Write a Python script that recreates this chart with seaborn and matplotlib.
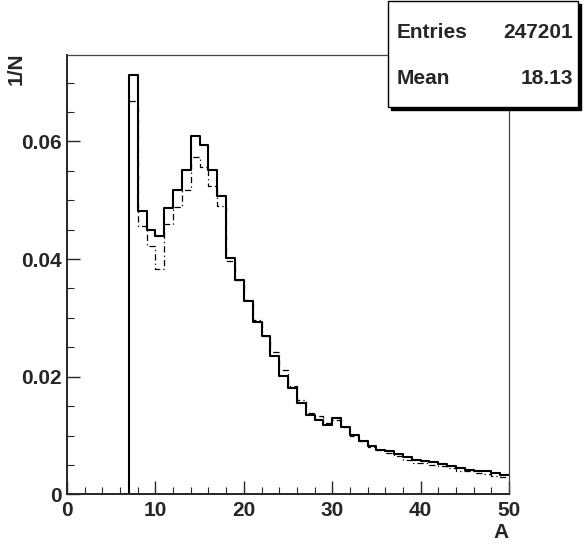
import numpy as np
import pandas as pd
import seaborn as sns
import matplotlib.pyplot as plt
from matplotlib.patches import Rectangle
from matplotlib.ticker import MultipleLocator

# bin edges 7..50, one unit wide
bin_edges = list(range(7, 51))

solid_vals = [0.0713, 0.0481, 0.0449, 0.0440, 0.0487, 0.0518, 0.0552, 0.0610, 0.0594, 0.0551,
              0.0508, 0.0401, 0.0365, 0.0328, 0.0293, 0.0269, 0.0235, 0.0202, 0.0180, 0.0155,
              0.0135, 0.0126, 0.0118, 0.0129, 0.0115, 0.0101, 0.0091, 0.0082, 0.0076, 0.0073,
              0.0069, 0.0064, 0.0059, 0.0057, 0.0055, 0.0052, 0.0049, 0.0044, 0.0042, 0.0040,
              0.0039, 0.0037, 0.0033]

dashdot_vals = [0.0668, 0.0457, 0.0423, 0.0383, 0.0460, 0.0488, 0.0517, 0.0573, 0.0556, 0.0524,
                0.0491, 0.0397, 0.0365, 0.0331, 0.0296, 0.0270, 0.0242, 0.0211, 0.0185, 0.0161,
                0.0139, 0.0133, 0.0121, 0.0127, 0.0115, 0.0100, 0.0090, 0.0080, 0.0075, 0.0070,
                0.0065, 0.0058, 0.0054, 0.0053, 0.0050, 0.0048, 0.0045, 0.0040, 0.0039, 0.0037,
                0.0035, 0.0032, 0.0029]

stat_labels = ["Entries", "Mean"]
stat_values = ["247201", "18.13"]

centers = np.array(bin_edges[:-1]) + 0.5
df = pd.DataFrame({"A": np.concatenate([centers, centers]),
                   "w": solid_vals + dashdot_vals,
                   "set": ["solid"] * len(solid_vals) + ["dashdot"] * len(dashdot_vals)})

sns.set_style("ticks")
plt.rcParams['font.family'] = ['Liberation Sans', 'DejaVu Sans']
plt.rcParams['font.weight'] = 'bold'

fig = plt.figure(figsize=(5.84, 5.47), dpi=100)
ax = fig.add_axes([0.1147, 0.0962, 0.757, 0.8033])

sns.histplot(data=df[df.set == "solid"], x="A", weights="w", bins=bin_edges,
             element="step", fill=False, color="black", linewidth=1.5, ax=ax)
sns.histplot(data=df[df.set == "dashdot"], x="A", weights="w", bins=bin_edges,
             element="step", fill=False, color="black", linewidth=0.9,
             linestyle=(0, (5, 2.5, 1, 2.5)), ax=ax)
# left edge of the histogram drops to zero
ax.vlines(bin_edges[0], 0, solid_vals[0], color="black", linewidth=1.5)

ax.set_xlim(0, 50)
ax.set_ylim(0, 0.0747)
ax.xaxis.set_major_locator(MultipleLocator(10))
ax.xaxis.set_minor_locator(MultipleLocator(2))
ax.yaxis.set_major_locator(MultipleLocator(0.02))
ax.yaxis.set_minor_locator(MultipleLocator(0.005))
ax.yaxis.set_major_formatter(plt.FuncFormatter(lambda v, p: "0" if v == 0 else f"{v:.2f}"))

ax.tick_params(which="major", direction="in", length=9.5, width=1.0, labelsize=15)
ax.tick_params(which="minor", direction="in", length=4.8, width=0.8)
ax.tick_params(axis="y", which="major", pad=4)
ax.tick_params(axis="x", which="major", pad=5)
for t in ax.get_xticklabels() + ax.get_yticklabels():
    t.set_fontweight("bold")

for s in ["left", "bottom"]:
    ax.spines[s].set_linewidth(1.4)
for s in ["top", "right"]:
    ax.spines[s].set_linewidth(0.9)
    ax.spines[s].set_color("#444444")

ax.set_xlabel("A", fontsize=15, fontweight="bold", loc="right")
ax.xaxis.set_label_coords(1.0, -0.065)
ax.set_ylabel("1/N", fontsize=15, fontweight="bold", loc="top")
ax.yaxis.set_label_coords(-0.093, 1.005)

# stat box with shadow, in figure pixels
W, H = 584, 547
fig.patches.append(Rectangle((391 / W, (H - 110) / H), 190 / W, 106 / H,
                             transform=fig.transFigure, facecolor="black",
                             edgecolor="black", zorder=5))
fig.patches.append(Rectangle((388 / W, (H - 107) / H), 190 / W, 106 / H,
                             transform=fig.transFigure, facecolor="white",
                             edgecolor="black", linewidth=1.0, zorder=6))
for i, (lab, val) in enumerate(zip(stat_labels, stat_values)):
    y = (H - 32 - i * 46) / H
    fig.text(397 / W, y, lab, fontsize=15, fontweight="bold", va="center", ha="left", zorder=7)
    fig.text(573 / W, y, val, fontsize=15, fontweight="bold", va="center", ha="right", zorder=7)

fig.savefig("out.png", dpi=100)
